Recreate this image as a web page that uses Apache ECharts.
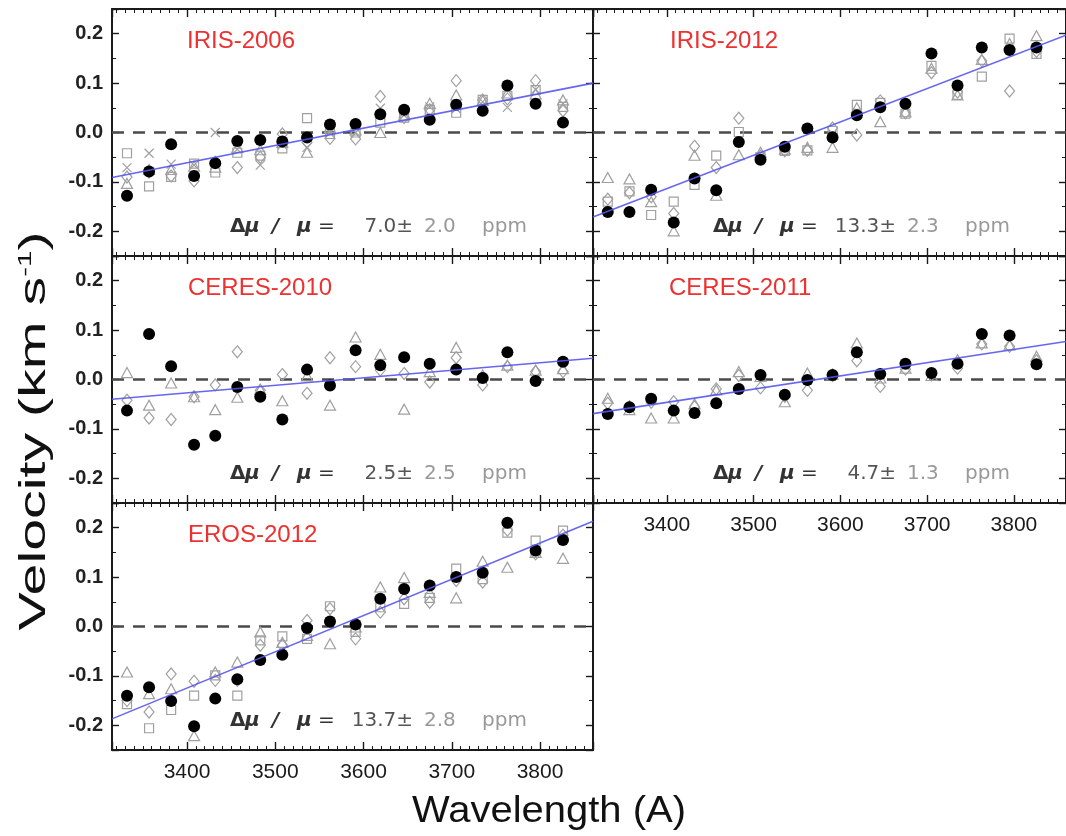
<!DOCTYPE html>
<html><head><meta charset="utf-8">
<script src="https://cdn.jsdelivr.net/npm/echarts@6/dist/echarts.min.js"></script>
<style>html,body{margin:0;padding:0;background:#fff}#c{width:1066px;height:836px}</style>
</head><body><div id="c"></div>
<script>
// ---------- DATA ----------
const wavelengths = [3332, 3357, 3382, 3408, 3432, 3457, 3483, 3508, 3536, 3562, 3591, 3619, 3646, 3675, 3705, 3735, 3763, 3795, 3826];
const panelNames = ['IRIS-2006', 'IRIS-2012', 'CERES-2010', 'CERES-2011', 'EROS-2012'];
const resultValues = ['7.0±', '13.3±', '2.5±', '4.7±', '13.7±'];
const resultErrors = ['2.0', '2.3', '2.5', '1.3', '2.8'];
const fitWavelengths = [3315, 3860];
const fitStart = [-0.091, -0.171, -0.040, -0.069, -0.187];
const fitEnd = [0.100, 0.197, 0.043, 0.077, 0.213];
const xAxisTitle = 'Wavelength (A)';

const iris2006Filled = [-0.128, -0.079, -0.024, -0.088, -0.062, -0.017, -0.015, -0.018, -0.010, 0.016, 0.017, 0.037, 0.046, 0.026, 0.056, 0.044, 0.095, 0.058, 0.020];
const iris2006Squares = [-0.042, -0.109, -0.090, -0.063, -0.081, -0.041, -0.047, -0.032, 0.029, -0.003, 0.000, 0.020, 0.030, 0.046, 0.040, 0.066, 0.074, 0.086, 0.052];
const iris2006Crosses = [-0.071, -0.042, -0.064, -0.066, 0.000, -0.034, -0.066, -0.025, -0.030, 0.000, 0.000, 0.049, 0.035, 0.052, 0.048, 0.062, 0.051, 0.087, 0.058];
const iris2006Diamonds = [-0.090, -0.080, -0.088, -0.098, -0.060, -0.071, -0.050, -0.003, -0.020, -0.012, -0.013, 0.073, 0.030, 0.046, 0.105, 0.066, 0.068, 0.105, 0.044];
const iris2006Triangles = [-0.103, -0.075, -0.075, -0.068, -0.070, -0.030, -0.035, -0.020, -0.040, 0.010, 0.005, 0.000, 0.035, 0.059, 0.076, 0.065, 0.080, 0.078, 0.066];

const iris2012Filled = [-0.161, -0.161, -0.116, -0.182, -0.093, -0.117, -0.019, -0.055, -0.029, 0.008, -0.010, 0.035, 0.051, 0.058, 0.160, 0.095, 0.172, 0.167, 0.172];
const iris2012Squares = [-0.140, -0.119, -0.167, -0.140, -0.106, -0.047, 0.001, -0.050, -0.037, -0.036, 0.003, 0.056, 0.060, 0.038, 0.135, 0.076, 0.113, 0.190, 0.159];
const iris2012Diamonds = [-0.135, -0.122, -0.130, -0.164, -0.028, -0.071, 0.029, -0.048, -0.037, -0.036, 0.009, -0.005, 0.064, 0.040, 0.121, 0.082, 0.145, 0.084, 0.164];
const iris2012Triangles = [-0.091, -0.094, -0.140, -0.199, -0.046, -0.127, -0.045, -0.040, -0.034, -0.030, -0.030, 0.050, 0.022, 0.042, 0.130, 0.076, 0.148, 0.180, 0.196];

const ceres2010Filled = [-0.063, 0.092, 0.027, -0.132, -0.114, -0.015, -0.035, -0.081, 0.020, -0.012, 0.059, 0.029, 0.045, 0.032, 0.020, 0.003, 0.055, -0.003, 0.036];
const ceres2010Diamonds = [-0.042, -0.078, -0.081, -0.035, -0.011, 0.056, -0.022, 0.010, -0.028, 0.044, 0.026, 0.019, 0.012, -0.005, 0.044, -0.011, 0.026, 0.016, 0.016];
const ceres2010Triangles = [0.014, -0.052, -0.007, -0.035, -0.061, -0.036, -0.020, -0.043, 0.007, -0.052, 0.086, 0.051, -0.060, 0.016, 0.065, 0.009, 0.029, 0.019, 0.022];

const ceres2011Filled = [-0.070, -0.056, -0.039, -0.063, -0.068, -0.048, -0.019, 0.009, -0.031, -0.001, 0.009, 0.055, 0.011, 0.032, 0.013, 0.032, 0.092, 0.089, 0.031];
const ceres2011Diamonds = [-0.048, -0.055, -0.046, -0.045, -0.055, -0.019, 0.008, -0.017, -0.034, -0.022, 0.008, 0.038, -0.014, 0.021, 0.009, 0.023, 0.072, 0.067, 0.038];
const ceres2011Triangles = [-0.038, -0.061, -0.078, -0.078, -0.049, -0.021, 0.016, 0.006, -0.045, 0.013, 0.011, 0.074, 0.003, 0.023, 0.008, 0.040, 0.074, 0.070, 0.047];

const eros2012Filled = [-0.140, -0.123, -0.151, -0.202, -0.146, -0.107, -0.068, -0.057, -0.003, 0.010, 0.004, 0.056, 0.076, 0.083, 0.100, 0.109, 0.210, 0.154, 0.175];
const eros2012Squares = [-0.157, -0.206, -0.169, -0.140, -0.099, -0.140, -0.028, -0.020, -0.025, 0.041, -0.011, 0.039, 0.046, 0.058, 0.117, 0.096, 0.190, 0.174, 0.194];
const eros2012Diamonds = [-0.150, -0.173, -0.096, -0.111, -0.109, -0.109, -0.038, -0.038, 0.012, 0.036, -0.025, 0.029, 0.056, 0.049, 0.093, 0.090, 0.195, 0.147, 0.185];
const eros2012Triangles = [-0.092, -0.136, -0.126, -0.221, -0.092, -0.072, -0.011, -0.032, -0.018, -0.035, -0.001, 0.080, 0.099, 0.069, 0.058, 0.132, 0.120, 0.150, 0.138];

const panelData = [
  {filled: iris2006Filled, square: iris2006Squares, cross: iris2006Crosses, diamond: iris2006Diamonds, triangle: iris2006Triangles},
  {filled: iris2012Filled, square: iris2012Squares, diamond: iris2012Diamonds, triangle: iris2012Triangles},
  {filled: ceres2010Filled, diamond: ceres2010Diamonds, triangle: ceres2010Triangles},
  {filled: ceres2011Filled, diamond: ceres2011Diamonds, triangle: ceres2011Triangles},
  {filled: eros2012Filled, square: eros2012Squares, diamond: eros2012Diamonds, triangle: eros2012Triangles}
];

// ---------- LAYOUT ----------
const layout = [
  {left: 112, top: 9,   yLabels: true,  xLabels: false, labelX: 187, annX: 230},
  {left: 593, top: 9,   yLabels: false, xLabels: false, labelX: 670, annX: 713},
  {left: 112, top: 256, yLabels: true,  xLabels: false, labelX: 188, annX: 230},
  {left: 593, top: 256, yLabels: false, xLabels: true,  labelX: 669, annX: 713},
  {left: 112, top: 503, yLabels: true,  xLabels: true,  labelX: 188, annX: 230}
];
const PW = 481, PH = 247;
const FRAME = '#1a1a1a';
const GRAY = '#a0a0a0';
const FONT = '"Liberation Sans", Arial, Helvetica, sans-serif';
const DJ = '"DejaVu Sans", sans-serif';

const grids = [], xAxes = [], yAxes = [], series = [], graphics = [];

function pts(arr) { return wavelengths.map((w, i) => [w, arr[i]]); }

const lineStyle = {color: FRAME, width: 2};
const tickStyle = {color: FRAME, width: 1.4};

layout.forEach((L, i) => {
  grids.push({left: L.left, top: L.top, width: PW, height: PH, containLabel: false});
  ['bottom', 'top'].forEach(pos => {
    xAxes.push({
      gridIndex: i, type: 'value', position: pos, min: 3315, max: 3860, splitNumber: 5,
      axisLine: {show: true, onZero: false, lineStyle},
      axisTick: {show: true, inside: true, length: 8, lineStyle: tickStyle},
      minorTick: {show: true, splitNumber: 10, length: 4, lineStyle: {color: FRAME, width: 1}},
      splitLine: {show: false},
      axisLabel: {show: pos === 'bottom' && L.xLabels, showMinLabel: false, showMaxLabel: false,
        fontSize: 21, color: '#1a1a1a', fontFamily: FONT, margin: 12, formatter: v => String(v)}
    });
  });
  ['left', 'right'].forEach(pos => {
    yAxes.push({
      gridIndex: i, type: 'value', position: pos, min: -0.25, max: 0.25, splitNumber: 5,
      axisLine: {show: true, onZero: false, lineStyle},
      axisTick: {show: true, inside: true, length: 7, lineStyle: tickStyle},
      minorTick: {show: true, splitNumber: 2, length: 4, lineStyle: {color: FRAME, width: 1}},
      splitLine: {show: false},
      axisLabel: {show: pos === 'left' && L.yLabels, showMinLabel: false, showMaxLabel: false,
        fontSize: 20, fontWeight: 'bold', color: '#222', fontFamily: FONT, margin: 9,
        formatter: v => v.toFixed(1)}
    });
  });
  const xi = i * 2, yi = i * 2;
  // zero dashed line
  series.push({
    type: 'line', xAxisIndex: xi, yAxisIndex: yi, data: [[fitWavelengths[0], 0], [fitWavelengths[1], 0]],
    showSymbol: false, silent: true, z: 1,
    lineStyle: {color: '#4a4a4a', width: 2.4, type: [12, 9]}
  });
  const D = panelData[i];
  const open = (data, symbol, size) => ({
    type: 'scatter', xAxisIndex: xi, yAxisIndex: yi, data: pts(data), symbol, symbolSize: size, silent: true, z: 2,
    itemStyle: {color: 'rgba(255,255,255,0)', borderColor: GRAY, borderWidth: 1.2, opacity: 1}
  });
  if (D.square) series.push(open(D.square, 'rect', 9));
  if (D.cross) series.push(open(D.cross, 'path://M0,0L10,10M10,0L0,10', 9));
  if (D.diamond) series.push(open(D.diamond, 'diamond', [10, 12]));
  if (D.triangle) series.push(open(D.triangle, 'triangle', [11, 10]));
  series.push({
    type: 'scatter', xAxisIndex: xi, yAxisIndex: yi, data: pts(D.filled), symbol: 'circle', symbolSize: 12,
    silent: true, z: 3, itemStyle: {color: '#000', opacity: 1}
  });
  series.push({
    type: 'line', xAxisIndex: xi, yAxisIndex: yi,
    data: [[fitWavelengths[0], fitStart[i]], [fitWavelengths[1], fitEnd[i]]],
    showSymbol: false, silent: true, z: 4,
    lineStyle: {color: '#5555ee', width: 1.6, opacity: 0.9}
  });
  // panel label
  graphics.push({
    type: 'text', x: L.labelX, y: L.top + 32.5, z: 10,
    style: {text: panelNames[i], fill: '#ee3030', font: '24px ' + FONT, textVerticalAlign: 'middle', verticalAlign: 'middle'}
  });
  // result annotation
  const ay = L.top + 218;
  const dk = {fill: '#333', fontSize: 20, fontWeight: 'bold', fontFamily: DJ};
  graphics.push({
    type: 'text', x: L.annX, y: ay, z: 10,
    style: {
      text: '{a|Δ}{m|μ}{s|/}{m2|μ}{e|=}',
      textVerticalAlign: 'middle', verticalAlign: 'middle',
      rich: {
        a: Object.assign({}, dk, {width: 15}),
        m: Object.assign({}, dk, {width: 27, fontStyle: 'italic'}),
        s: Object.assign({}, dk, {width: 25, fontStyle: 'italic'}),
        m2: Object.assign({}, dk, {width: 21, fontStyle: 'italic'}),
        e: Object.assign({}, dk, {fontWeight: 'normal'})
      }
    }
  });
  graphics.push({
    type: 'text', x: L.annX + 183, y: ay, z: 10,
    style: {text: resultValues[i], fill: '#555', font: '20px ' + DJ, textAlign: 'right', align: 'right', textVerticalAlign: 'middle', verticalAlign: 'middle'}
  });
  graphics.push({
    type: 'text', x: L.annX + 194, y: ay, z: 10,
    style: {text: resultErrors[i], fill: '#999', font: '20px ' + DJ, textVerticalAlign: 'middle', verticalAlign: 'middle'}
  });
  graphics.push({
    type: 'text', x: L.annX + 252, y: ay, z: 10,
    style: {text: 'ppm', fill: '#999', font: '20px ' + DJ, textVerticalAlign: 'middle', verticalAlign: 'middle'}
  });
});

// axis titles
graphics.push({
  type: 'text', x: 549, y: 812, z: 10, scaleX: 1.08,
  style: {text: xAxisTitle, fill: '#111', font: '37px ' + FONT, textAlign: 'center', align: 'center', textVerticalAlign: 'middle', verticalAlign: 'middle'}
});
graphics.push({
  type: 'text', x: 35, y: 431, rotation: Math.PI / 2, scaleX: 1.55, z: 10,
  style: {
    text: '{m|Velocity (km s}{s|-1}{m|)}', textAlign: 'center', align: 'center', textVerticalAlign: 'middle', verticalAlign: 'middle',
    rich: {
      m: {fill: '#111', fontSize: 37, fontFamily: FONT},
      s: {fill: '#111', fontSize: 19, fontFamily: FONT, verticalAlign: 'top'}
    }
  }
});

const chart = echarts.init(document.getElementById('c'), null, {renderer: 'canvas'});
chart.setOption({
  animation: false,
  backgroundColor: '#fff',
  grid: grids, xAxis: xAxes, yAxis: yAxes, series, graphic: graphics
});
</script></body></html>
